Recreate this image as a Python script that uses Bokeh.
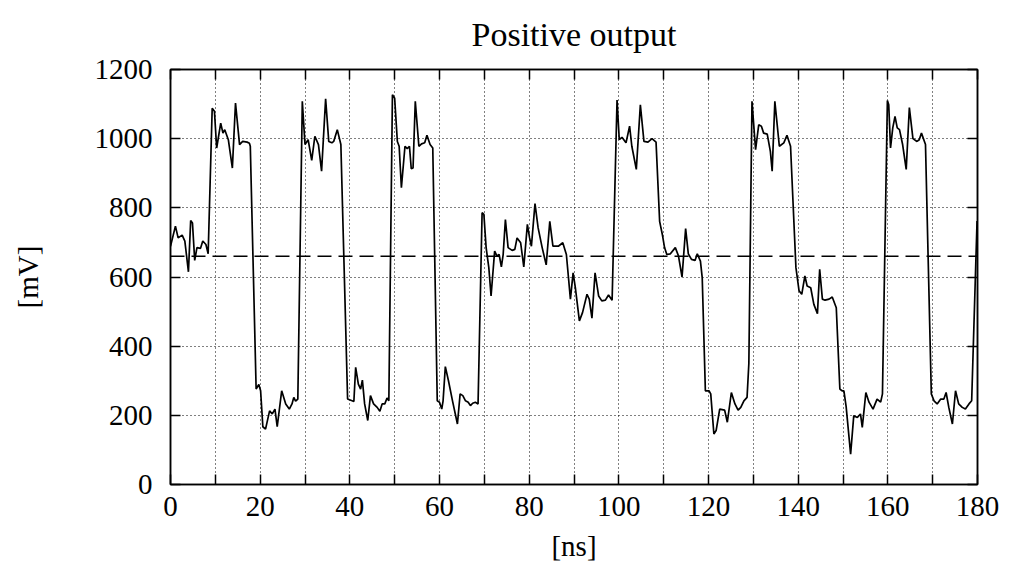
from bokeh.plotting import figure
from bokeh.models import Range1d, FixedTicker, LinearAxis, Span, ColumnDataSource, CustomLabelingPolicy
from bokeh.embed import file_html
from bokeh.resources import INLINE

# time [ns] and positive output [mV]
t_ns = [0.0, 1.1, 1.7, 2.6, 3.2, 4.0, 4.5, 4.9, 5.4, 5.9, 6.7, 7.2, 7.9, 8.4,
        9.3, 9.8, 10.3, 11.2, 11.7, 12.1, 12.9, 13.8, 14.5, 15.4, 16.1, 17.1, 17.6, 17.8,
        19.1, 19.7, 20.1, 20.6, 21.2, 22.1, 22.7, 23.3, 23.8, 24.8, 25.7, 26.5, 27.1, 27.5, 27.9, 28.4,
        29.4, 30.0, 30.7, 31.5, 32.2, 33.0, 33.7, 34.6, 35.3, 36.0, 36.4, 37.2, 38.0,
        39.5, 40.5, 40.9, 41.3, 41.9, 42.4, 42.8, 43.3, 44.0, 44.6, 45.3, 46.1, 46.7, 47.2, 47.8, 48.3, 48.7,
        49.5, 50.0, 50.6, 51.0, 51.5, 52.3, 52.8, 53.3, 53.7, 54.1, 54.6, 55.4, 56.0, 56.7, 57.2, 57.9, 58.5,
        59.5, 60.0, 60.5, 60.8, 61.3, 62.0, 62.9, 64.0, 64.6, 65.2, 65.8, 66.4, 66.9, 67.4, 68.0, 68.6,
        69.5, 69.9, 70.4, 71.0, 71.5, 72.3, 72.8, 73.3, 73.8, 74.2, 74.7, 75.3, 76.2, 76.8, 77.3, 78.1,
        78.8, 79.6, 80.1, 80.5, 81.3, 82.0, 82.9, 83.8, 84.6, 85.3, 86.5, 87.5, 88.3, 89.2, 89.8, 90.3,
        91.2, 91.9, 92.9, 93.4, 94.0, 94.7, 95.5, 96.2, 97.0, 97.7, 98.5,
        99.6, 100.1, 100.7, 101.6, 102.4, 102.9, 103.9, 104.8, 105.6, 106.5, 107.4, 108.3,
        109.1, 109.7, 110.2, 110.7, 111.5, 112.6, 113.3, 114.1, 114.9, 115.5, 116.2, 117.0, 117.5, 118.2, 118.6,
        119.3, 120.1, 120.5, 121.2, 121.7, 122.5, 123.6, 124.2, 125.1, 125.9, 126.6, 127.2, 127.9, 128.6, 129.0,
        129.7, 130.5, 131.2, 131.8, 132.3, 133.1, 133.8, 134.2, 134.8, 135.8, 136.8, 137.5, 138.3,
        139.5, 140.2, 140.8, 141.5, 142.0, 142.8, 143.5, 144.3, 144.8, 145.4, 146.0, 146.9, 147.6, 148.5,
        149.3, 149.8, 150.2, 150.7, 151.7, 152.4, 153.2, 153.9, 154.3, 155.1, 155.8, 156.7, 157.6, 158.4, 158.8,
        159.9, 160.2, 160.6, 161.1, 161.6, 162.1, 162.6, 163.3, 164.1, 164.8, 165.6, 166.5, 167.0, 167.5, 168.4,
        169.7, 170.3, 171.0, 171.8, 172.5, 173.0, 173.6, 174.4, 175.1, 175.8, 176.6, 177.3, 178.1, 178.7,
        179.9]
v_mV = [689, 747, 713, 721, 704, 615, 763, 756, 648, 685, 683, 704, 694, 667,
        1088, 1079, 973, 1045, 1016, 1026, 997, 915, 1103, 983, 992, 990, 987, 978,
        276, 289, 271, 167, 160, 213, 204, 218, 167, 271, 233, 218, 233, 252, 241, 247,
        1108, 983, 997, 937, 1007, 983, 906, 1115, 992, 988, 992, 1026, 983,
        247, 242, 240, 339, 290, 276, 302, 233, 185, 257, 233, 223, 212, 233, 233, 250, 242,
        1127, 1117, 992, 978, 858, 978, 971, 978, 913, 915, 1108, 978, 985, 988, 1010, 983, 973,
        242, 238, 218, 242, 341, 300, 242, 175, 262, 257, 242, 238, 228, 235, 238, 233,
        786, 781, 685, 627, 545, 675, 661, 665, 629, 665, 766, 685, 677, 680, 713, 699,
        629, 752, 713, 689, 812, 742, 685, 635, 761, 689, 689, 699, 665, 536, 612, 569,
        473, 497, 550, 536, 481, 612, 545, 531, 533, 548, 533,
        1112, 997, 1004, 988, 1036, 978, 911, 1098, 992, 990, 1000, 990,
        761, 723, 685, 665, 667, 685, 661, 600, 740, 667, 651, 648, 667, 646, 598,
        271, 271, 262, 146, 156, 218, 215, 180, 266, 233, 215, 223, 242, 252, 350,
        1108, 968, 1040, 1036, 1016, 1013, 963, 906, 1108, 978, 988, 1010, 978,
        627, 560, 550, 603, 574, 569, 521, 494, 622, 536, 533, 536, 542, 511,
        276, 271, 271, 225, 88, 199, 194, 204, 165, 266, 238, 218, 247, 238, 262,
        1110, 1098, 973, 1031, 1064, 1031, 1026, 983, 911, 1090, 1000, 992, 997, 1016, 983,
        262, 242, 233, 247, 247, 266, 223, 175, 271, 233, 223, 218, 233, 242,
        762]

threshold_mV = 660
x_ticks = list(range(0, 181, 10))   # ticks/grid every 10 ns, labels every 20 ns
y_ticks = list(range(0, 1201, 200))

FONT = "Liberation Serif"
FS = "29px"

p = figure(width=1026, height=570, output_backend="svg", toolbar_location=None,
           x_range=Range1d(0, 180), y_range=Range1d(0, 1200),
           min_border_left=170, min_border_right=49, min_border_top=68, min_border_bottom=86)
p.background_fill_color = "white"
p.border_fill_color = "white"
p.outline_line_color = "black"
p.outline_line_width = 1.5

p.title.text = "Positive output"
p.title.align = "center"
p.title.text_font = FONT
p.title.text_font_size = "34px"
p.title.text_font_style = "normal"
p.title.text_color = "black"
p.title.standoff = 26

xt = FixedTicker(ticks=x_ticks)
yt = FixedTicker(ticks=y_ticks)

every_other = CustomLabelingPolicy(code="""
for (const i of indices) { if (i % 2 == 1) indices.unset(i) }
return indices
""")
no_labels = CustomLabelingPolicy(code="""
for (const i of indices) { indices.unset(i) }
return indices
""")

def style_axis(ax, fs=FS):
    ax.axis_line_color = "black"
    ax.axis_line_width = 1.5
    ax.major_tick_in = 10
    ax.major_tick_out = 0
    ax.major_tick_line_width = 1.5
    ax.major_tick_line_color = "black"
    ax.minor_tick_in = 0
    ax.minor_tick_out = 0
    ax.major_label_text_font = FONT
    ax.major_label_text_font_size = fs
    ax.major_label_text_color = "black"
    ax.axis_label_text_font = FONT
    ax.axis_label_text_font_size = fs
    ax.axis_label_text_font_style = "normal"
    ax.axis_label_text_color = "black"

p.xaxis.ticker = xt
p.xaxis.major_label_policy = every_other
p.xaxis.axis_label = "[ns]"
p.xaxis.major_label_standoff = 12
p.xaxis.axis_label_standoff = 11
p.yaxis.ticker = yt
p.yaxis.axis_label = "[mV]"
p.yaxis.major_label_standoff = 18
p.yaxis.axis_label_standoff = 48
style_axis(p.xaxis[0])
style_axis(p.yaxis[0])

# mirrored tick marks on the top and right edges, with no labels drawn
top = LinearAxis(ticker=xt, major_label_policy=no_labels, major_label_standoff=0)
style_axis(top, fs="1px")
right = LinearAxis(ticker=yt, major_label_policy=no_labels, major_label_standoff=0)
style_axis(right, fs="1px")
p.add_layout(top, "above")
p.add_layout(right, "right")

p.xgrid.ticker = xt
p.ygrid.ticker = yt
for g in (p.xgrid[0], p.ygrid[0]):
    g.grid_line_color = "black"
    g.grid_line_dash = "1 3"
    g.grid_line_width = 1

p.add_layout(Span(location=threshold_mV, dimension="width", line_color="black",
                  line_width=1.5, line_dash="14 7"))

src = ColumnDataSource(dict(t=t_ns, v=v_mV))
p.line("t", "v", source=src, line_color="black", line_width=1.7)

open("out.html", "w").write(file_html(p, INLINE))
